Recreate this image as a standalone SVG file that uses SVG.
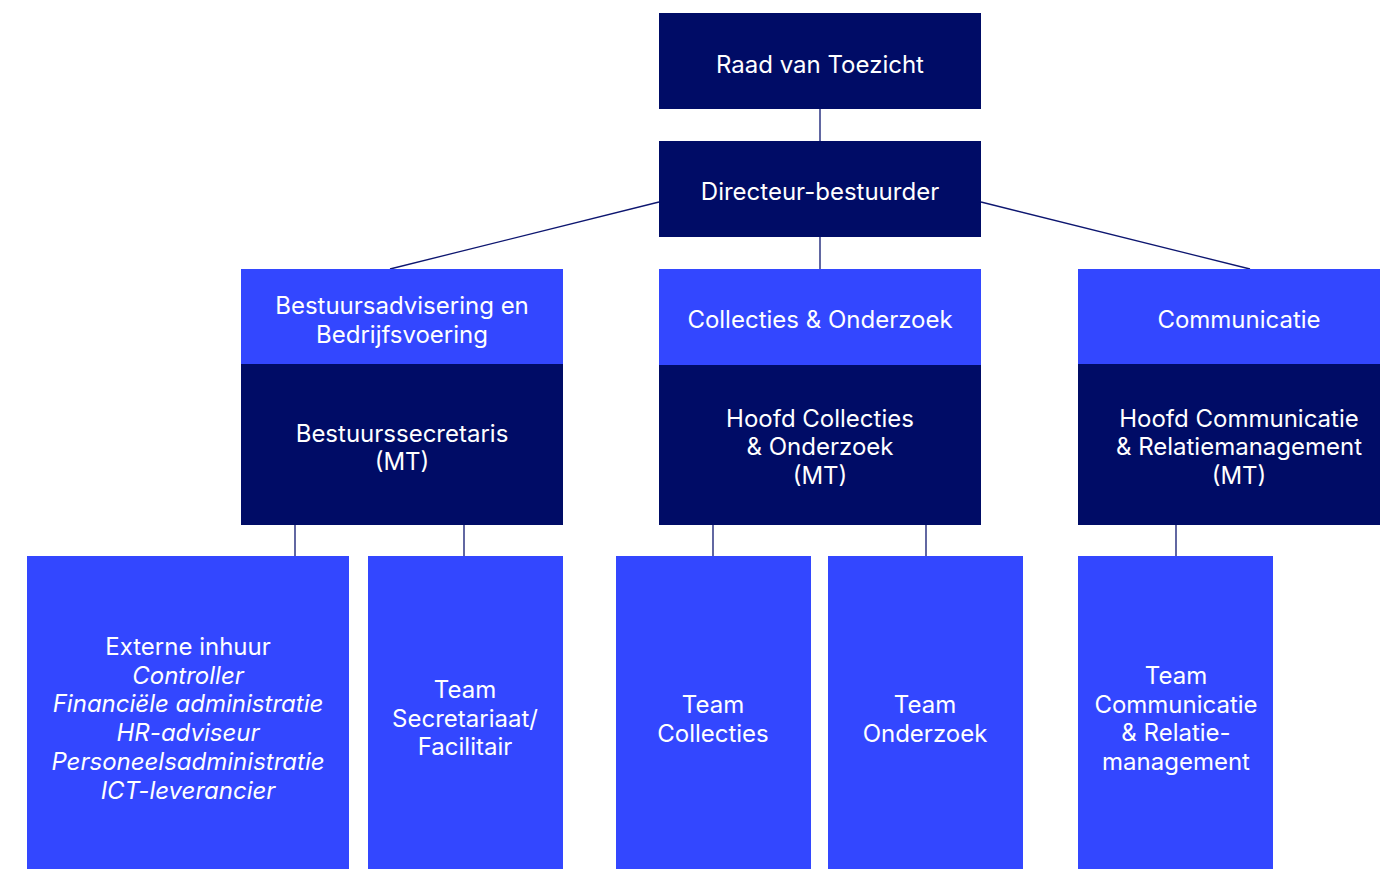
<svg xmlns="http://www.w3.org/2000/svg" width="1380" height="869" viewBox="0 0 1380 869">
<style>
.dark{fill:#000C66}
.blue{fill:#3347FF}
text{font-family:Inter,"Noto Sans","Liberation Sans",sans-serif;font-size:24px;font-weight:400;fill:#FFFFFF;text-anchor:middle}
.it{font-style:italic}
.con line{stroke:#0D1670;stroke-width:1.3;fill:none}
</style>
<rect width="1380" height="869" fill="#FFFFFF"/>
<g class="con" id="connectors">
<line x1="820" y1="109" x2="820" y2="141"/>
<line x1="820" y1="237" x2="820" y2="269"/>
<line x1="659" y1="202" x2="390" y2="269"/>
<line x1="981" y1="202" x2="1250" y2="269"/>
<line x1="295" y1="525" x2="295" y2="556"/>
<line x1="464" y1="525" x2="464" y2="556"/>
<line x1="713" y1="525" x2="713" y2="556"/>
<line x1="926" y1="525" x2="926" y2="556"/>
<line x1="1176" y1="525" x2="1176" y2="556"/>
</g>
<g id="raad">
<rect class="dark" x="659" y="13" width="322" height="96"/>
<text x="820" y="73">Raad van Toezicht</text>
</g>
<g id="directeur">
<rect class="dark" x="659" y="141" width="322" height="96"/>
<text x="820" y="200">Directeur-bestuurder</text>
</g>
<g id="bestuursadvisering">
<rect class="blue" x="241" y="269" width="322" height="95"/>
<text x="402" y="314">Bestuursadvisering en</text>
<text x="402" y="342.5">Bedrijfsvoering</text>
</g>
<g id="bestuurssecretaris">
<rect class="dark" x="241" y="364" width="322" height="161"/>
<text x="402" y="441.5">Bestuurssecretaris</text>
<text x="402" y="470">(MT)</text>
</g>
<g id="collecties-onderzoek">
<rect class="blue" x="659" y="269" width="322" height="96"/>
<text x="820" y="328">Collecties &amp; Onderzoek</text>
</g>
<g id="hoofd-collecties">
<rect class="dark" x="659" y="365" width="322" height="160"/>
<text x="820" y="426.5">Hoofd Collecties</text>
<text x="820" y="455">&amp; Onderzoek</text>
<text x="820" y="483.5">(MT)</text>
</g>
<g id="communicatie">
<rect class="blue" x="1078" y="269" width="302" height="95"/>
<text x="1239" y="328">Communicatie</text>
</g>
<g id="hoofd-communicatie">
<rect class="dark" x="1078" y="364" width="302" height="161"/>
<text x="1239" y="426.5">Hoofd Communicatie</text>
<text x="1239" y="455">&amp; Relatiemanagement</text>
<text x="1239" y="483.5">(MT)</text>
</g>
<g id="externe-inhuur">
<rect class="blue" x="27" y="556" width="322" height="313"/>
<text x="188" y="655">Externe inhuur</text>
<text class="it" x="188" y="683.7">Controller</text>
<text class="it" x="188" y="712.4">Financiële administratie</text>
<text class="it" x="188" y="741.1">HR-adviseur</text>
<text class="it" x="188" y="769.8">Personeelsadministratie</text>
<text class="it" x="188" y="798.5">ICT-leverancier</text>
</g>
<g id="team-secretariaat">
<rect class="blue" x="368" y="556" width="195" height="313"/>
<text x="465" y="698">Team</text>
<text x="465" y="726.7">Secretariaat/</text>
<text x="465" y="755.4">Facilitair</text>
</g>
<g id="team-collecties">
<rect class="blue" x="616" y="556" width="195" height="313"/>
<text x="713" y="713.3">Team</text>
<text x="713" y="742">Collecties</text>
</g>
<g id="team-onderzoek">
<rect class="blue" x="828" y="556" width="195" height="313"/>
<text x="925" y="713.3">Team</text>
<text x="925" y="742">Onderzoek</text>
</g>
<g id="team-communicatie">
<rect class="blue" x="1078" y="556" width="195" height="313"/>
<text x="1176" y="684">Team</text>
<text x="1176" y="712.7">Communicatie</text>
<text x="1176" y="741.4">&amp; Relatie-</text>
<text x="1176" y="770">management</text>
</g>
</svg>
